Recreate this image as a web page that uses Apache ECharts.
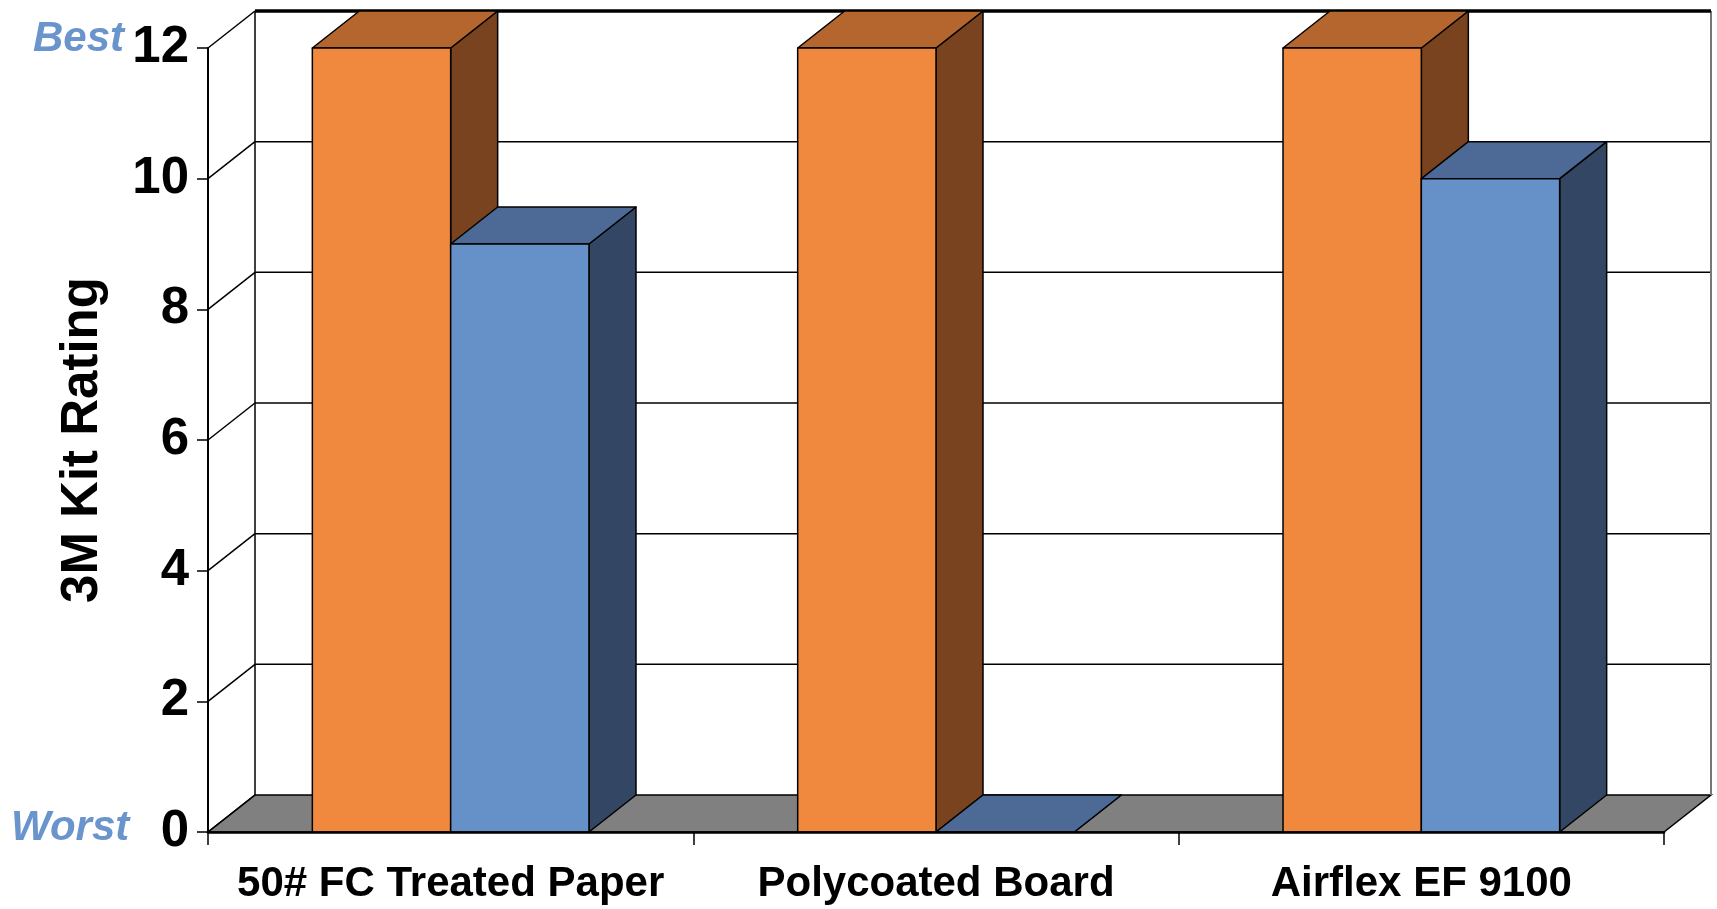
<!DOCTYPE html>
<html>
<head>
<meta charset="utf-8">
<script src="https://cdn.jsdelivr.net/npm/echarts@6/dist/echarts.min.js"></script>
<style>
html,body{margin:0;padding:0;background:#fff;}
#chart{width:1717px;height:909px;}
</style>
</head>
<body>
<div id="chart"></div>
<script>
// ---- data ----
const categories = ['50# FC Treated Paper', 'Polycoated Board', 'Airflex EF 9100'];
const seriesA = [12, 12, 12];   // orange series
const seriesB = [9, 0, 10];     // blue series
const yTicks = [0, 2, 4, 6, 8, 10, 12];
const yMin = 0, yMax = 12, yInterval = 2;

// ---- style constants ----
const DX = 47, DY = -37;          // 3D depth offset in pixels
const BAR_RATIO = 0.285;          // bar width relative to category band
const FONT = '"Liberation Sans", Arial, sans-serif';
const orange = {front: '#F0893D', top: '#B5662E', side: '#7A431F'};
const blue = {front: '#6690C8', top: '#4D6A96', side: '#334765'};

const chart = echarts.init(document.getElementById('chart'), null, {renderer: 'canvas'});

function renderFrame(params, api) {
  const cs = params.coordSys;
  const v = api.value(1);
  const y = api.coord([0, v])[1];
  const x0 = cs.x, x1 = cs.x + cs.width;
  const children = [];
  if (v === yMin) {
    children.push({
      type: 'polygon',
      shape: {points: [[x0, y], [x1, y], [x1 + DX, y + DY], [x0 + DX, y + DY]]},
      style: {fill: '#808080', stroke: '#000', lineWidth: 1.5}
    });
  }
  if (v === yMax) {
    const yb = api.coord([0, yMin])[1];
    children.push({
      type: 'line', shape: {x1: x0 + DX, y1: y + DY, x2: x0 + DX, y2: yb + DY},
      style: {stroke: '#000', lineWidth: 1.5}
    });
    children.push({
      type: 'line', shape: {x1: x1 + DX, y1: y + DY, x2: x1 + DX, y2: yb + DY},
      style: {stroke: '#777', lineWidth: 2}
    });
  }
  children.push({
    type: 'line', shape: {x1: x0, y1: y, x2: x0 + DX, y2: y + DY},
    style: {stroke: '#000', lineWidth: 1.5}
  });
  if (v !== yMin) {
    children.push({
      type: 'line', shape: {x1: x0 + DX, y1: y + DY, x2: x1 + DX, y2: y + DY},
      style: {stroke: '#000', lineWidth: v === yMax ? 3.5 : 1.5}
    });
  }
  return {type: 'group', children: children};
}

function makeBarRenderer(side, colors) {
  return function (params, api) {
    const cat = api.value(0), val = api.value(1);
    const base = api.coord([cat, 0]);
    const top = api.coord([cat, val]);
    const band = api.size([1, 0])[0];
    const w = band * BAR_RATIO;
    const left = side < 0 ? base[0] - w : base[0];
    const right = left + w;
    const ty = top[1], by = base[1];
    const stroke = {stroke: '#000', lineWidth: 1.5, lineJoin: 'round'};
    return {
      type: 'group',
      children: [
        {type: 'polygon', shape: {points: [[right, ty], [right + DX, ty + DY], [right + DX, by + DY], [right, by]]},
         style: Object.assign({fill: colors.side}, stroke)},
        {type: 'polygon', shape: {points: [[left, ty], [right, ty], [right + DX, ty + DY], [left + DX, ty + DY]]},
         style: Object.assign({fill: colors.top}, stroke)},
        {type: 'rect', shape: {x: left, y: ty, width: w, height: by - ty},
         style: Object.assign({fill: colors.front}, stroke)}
      ]
    };
  };
}

const option = {
  backgroundColor: '#fff',
  animation: false,
  grid: {left: 208, right: 53, top: 48, bottom: 77},
  xAxis: {
    type: 'category',
    data: categories,
    z: 10,
    axisLine: {lineStyle: {color: '#000', width: 2.5}},
    axisTick: {show: true, length: 13, lineStyle: {color: '#000', width: 1.5}},
    axisLabel: {color: '#000', fontSize: 42, fontWeight: 'bold', fontFamily: FONT, margin: 31, interval: 0},
    splitLine: {show: false}
  },
  yAxis: {
    type: 'value',
    min: yMin, max: yMax, interval: yInterval,
    z: 10,
    name: '3M Kit Rating',
    nameLocation: 'middle',
    nameGap: 100,
    nameTextStyle: {color: '#000', fontSize: 51, fontWeight: 'bold', fontFamily: FONT},
    axisLine: {show: true, lineStyle: {color: '#000', width: 2}},
    axisTick: {show: true, length: 11, lineStyle: {color: '#000', width: 1.5}},
    axisLabel: {color: '#000', fontSize: 51, fontWeight: 'bold', fontFamily: FONT, margin: 19},
    splitLine: {show: false}
  },
  graphic: [
    {type: 'text', left: 33, top: 18, style: {text: 'Best', fill: '#6A94CC', font: 'italic bold 42px ' + FONT}},
    {type: 'text', left: 11, top: 807, style: {text: 'Worst', fill: '#6A94CC', font: 'italic bold 42px ' + FONT}}
  ],
  series: [
    {type: 'custom', name: 'frame', z: 1, silent: true,
     renderItem: renderFrame, data: yTicks.map(v => [0, v])},
    {type: 'custom', name: 'A', z: 3, renderItem: makeBarRenderer(-1, orange),
     data: seriesA.map((v, i) => [i, v])},
    {type: 'custom', name: 'B', z: 4, renderItem: makeBarRenderer(1, blue),
     data: seriesB.map((v, i) => [i, v])}
  ]
};
chart.setOption(option);
</script>
</body>
</html>
